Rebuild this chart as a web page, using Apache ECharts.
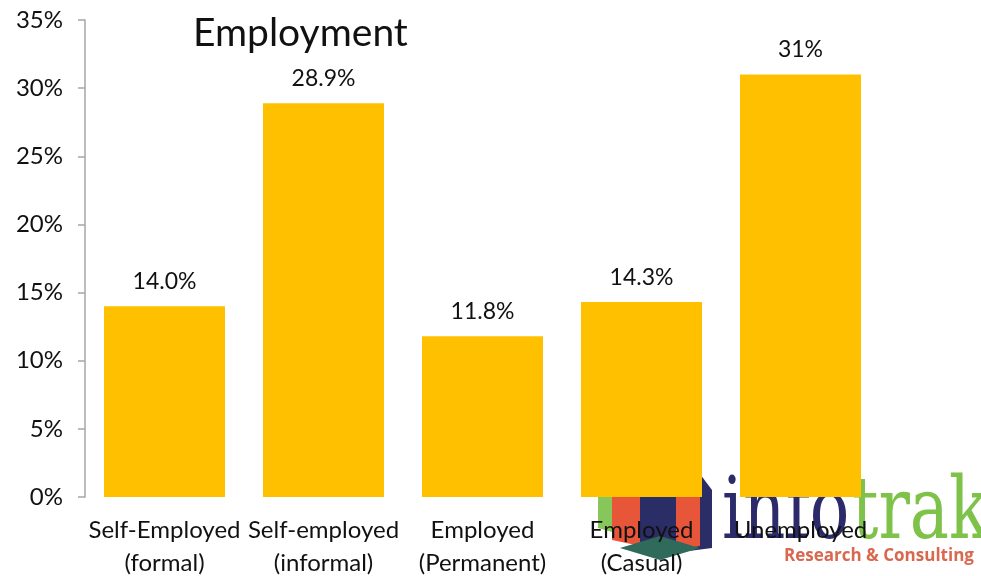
<!DOCTYPE html>
<html>
<head>
<meta charset="utf-8">
<script src="https://cdn.jsdelivr.net/npm/echarts@6/dist/echarts.min.js"></script>
<style>
  html, body { margin: 0; padding: 0; background: #ffffff; }
  #chart { width: 981px; height: 576px; }
</style>
</head>
<body>
<div id="chart"></div>
<script>
// Employment status shares (percent)
const categories = [
  'Self-Employed\n(formal)',
  'Self-employed\n(informal)',
  'Employed\n(Permanent)',
  'Employed\n(Casual)',
  'Unemployed'
];
const values = [14.0, 28.9, 11.8, 14.3, 31];
const valueLabels = ['14.0%', '28.9%', '11.8%', '14.3%', '31%'];
const yTicks = { min: 0, max: 35, interval: 5 };

const FONT = 'Lato, "Open Sans", sans-serif';

const chart = echarts.init(document.getElementById('chart'), null, { renderer: 'canvas' });

chart.setOption({
  backgroundColor: '#ffffff',
  animation: false,
  title: {
    text: 'Employment',
    left: 188,
    top: 9,
    textStyle: { fontFamily: FONT, fontSize: 39, fontWeight: 'normal', color: '#111111' }
  },
  grid: { left: 85, right: 101, top: 20, bottom: 79, outerBoundsMode: 'none', containLabel: false },
  xAxis: {
    type: 'category',
    data: categories,
    axisLine: { show: false },
    axisTick: { show: false },
    axisLabel: {
      color: '#111111',
      fontFamily: FONT,
      fontSize: 24,
      lineHeight: 33,
      margin: 17,
      interval: 0
    }
  },
  yAxis: {
    type: 'value',
    min: yTicks.min,
    max: yTicks.max,
    interval: yTicks.interval,
    splitLine: { show: false },
    axisLine: { show: true, lineStyle: { color: '#a6a6a6', width: 1.5 } },
    axisTick: { show: true, length: 7, lineStyle: { color: '#a6a6a6', width: 1.5 } },
    axisLabel: {
      color: '#111111',
      fontFamily: FONT,
      fontSize: 24,
      margin: 22,
      formatter: v => v + '%'
    }
  },
  // infotrak logo, drawn behind the bars and labels
  graphic: [
    { type: 'polygon', z: -10, shape: { points: [[598, 478], [640, 470], [640, 540], [598, 528]] }, style: { fill: '#86c65a' } },
    { type: 'polygon', z: -10, shape: { points: [[612, 490], [650, 482], [650, 548], [612, 540]] }, style: { fill: '#e8563a' } },
    { type: 'polygon', z: -10, shape: { points: [[640, 482], [700, 474], [712, 490], [712, 548], [650, 556], [640, 546]] }, style: { fill: '#2b2d66' } },
    { type: 'polygon', z: -10, shape: { points: [[676, 492], [700, 488], [700, 546], [676, 550]] }, style: { fill: '#e8563a' } },
    { type: 'polygon', z: -10, shape: { points: [[620, 548], [660, 536], [700, 548], [660, 560]] }, style: { fill: '#2f6a5a' } },
    {
      type: 'text', z: -10, left: 722, top: 473,
      style: { text: 'info', fill: '#2b2a6b', font: '86px "DejaVu Serif Condensed", "DejaVu Serif", serif' },
      scaleX: 0.85
    },
    {
      type: 'text', z: -10, left: 852, top: 473,
      style: { text: 'trak', fill: '#7fc24a', font: '86px "DejaVu Serif Condensed", "DejaVu Serif", serif' },
      scaleX: 0.85
    },
    {
      type: 'text', z: -10, left: 784, top: 548,
      style: { text: 'Research & Consulting', fill: '#d9684f', font: 'bold 17px "Open Sans", sans-serif' }
    }
  ],
  series: [{
    type: 'bar',
    data: values,
    barWidth: 121,
    itemStyle: { color: '#ffc000' },
    label: {
      show: true,
      position: 'top',
      distance: 13,
      color: '#111111',
      fontFamily: FONT,
      fontSize: 23,
      formatter: p => valueLabels[p.dataIndex]
    }
  }]
});
</script>
</body>
</html>
